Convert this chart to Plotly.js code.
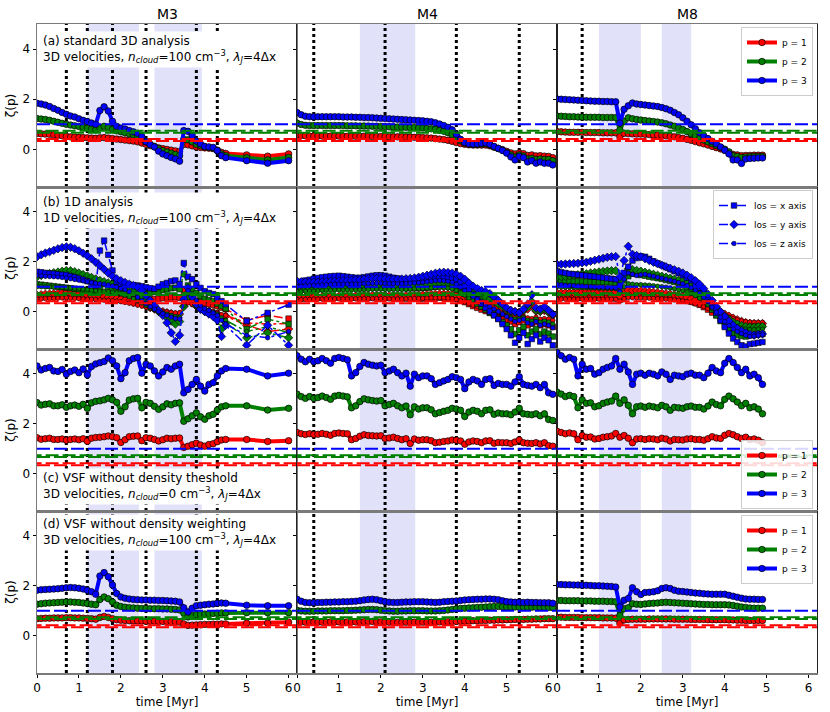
<!DOCTYPE html>
<html><head><meta charset="utf-8">
<script src="https://cdn.plot.ly/plotly-3.0.1.min.js"></script>
<style>html,body{margin:0;padding:0;background:#fff}#chart{width:830px;height:712px}</style>
</head><body><div id="chart"></div>
<script>
// ---------------- DATA ----------------
var t_M3 = [0.0,0.1,0.2,0.3,0.4,0.5,0.6,0.7,0.8,0.9,
 1.0,1.1,1.2,1.3,1.4,1.5,1.6,1.7,1.8,1.9,
 2.0,2.1,2.2,2.3,2.4,2.5,2.6,2.7,2.8,2.9,
 3.0,3.1,3.2,3.3,3.4,3.5,3.6,3.7,3.8,3.9,
 4.0,4.1,4.2,4.3,4.4,4.5,5.0,5.5,6.0];
var t_M4 = [0.0,0.1,0.2,0.3,0.4,0.5,0.6,0.7,0.8,0.9,
 1.0,1.1,1.2,1.3,1.4,1.5,1.6,1.7,1.8,1.9,
 2.0,2.1,2.2,2.3,2.4,2.5,2.6,2.7,2.8,2.9,
 3.0,3.1,3.2,3.3,3.4,3.5,3.6,3.7,3.8,3.9,
 4.0,4.1,4.2,4.3,4.4,4.5,4.6,4.7,4.8,4.9,
 5.0,5.1,5.2,5.3,5.4,5.5,5.6,5.7,5.8,5.9,
 6.0,6.1];
var t_M8 = [0.0,0.1,0.2,0.3,0.4,0.5,0.6,0.7,0.8,0.9,
 1.0,1.1,1.2,1.3,1.4,1.5,1.6,1.7,1.8,1.9,
 2.0,2.1,2.2,2.3,2.4,2.5,2.6,2.7,2.8,2.9,
 3.0,3.1,3.2,3.3,3.4,3.5,3.6,3.7,3.8,3.9,
 4.0,4.1,4.2,4.3,4.4,4.5,4.6,4.7,4.8,4.9];

// shaded intervals and dotted event lines (Myr)
var shade_M3 = [[1.2,2.43],[2.8,3.93]];
var shade_M4 = [[1.5,2.82]];
var shade_M8 = [[1.0,2.0],[2.5,3.2]];
var vline_M3 = [0.7,1.2,1.8,2.6,3.8,4.3];
var vline_M4 = [0.4,2.1,3.8,5.3];
var vline_M8 = [0.6];

// reference models: K41 and second model
var ref_K41 = [0.333,0.667,1.0];
var ref_B02 = [0.418,0.741,1.0];
var refX = [0,6.2];
var refXshift = [-0.2,6.2];

// (a) standard 3D
var a_M3_p3 = [1.84,1.81,1.77,1.71,1.63,1.56,1.47,1.40,1.33,1.29,
 1.22,1.16,1.11,1.05,1.00,1.55,1.70,1.53,1.12,0.92,
 0.85,0.81,0.75,0.70,0.64,0.51,0.30,0.19,0.10,-0.07,
 -0.18,-0.25,-0.32,-0.38,-0.47,0.75,0.72,0.55,0.33,0.22,
 0.12,0.10,0.08,-0.05,-0.25,-0.33,-0.45,-0.55,-0.45];
var a_M3_p2 = [1.23,1.21,1.19,1.16,1.12,1.08,1.04,1.00,0.97,0.94,
 0.91,0.88,0.85,0.82,0.78,0.86,0.92,0.88,0.80,0.74,
 0.70,0.66,0.62,0.58,0.52,0.42,0.30,0.20,0.12,0.03,
 -0.05,-0.10,-0.15,-0.20,-0.25,0.40,0.38,0.30,0.20,0.15,
 0.10,0.08,0.05,-0.05,-0.18,-0.25,-0.33,-0.42,-0.32];
var a_M3_p1 = [0.63,0.62,0.61,0.60,0.58,0.56,0.54,0.52,0.50,0.49,
 0.48,0.47,0.46,0.45,0.44,0.46,0.47,0.45,0.43,0.41,
 0.39,0.37,0.35,0.33,0.30,0.25,0.20,0.15,0.10,0.06,
 0.03,0.00,-0.03,-0.06,-0.09,0.20,0.18,0.14,0.10,0.08,
 0.06,0.05,0.03,-0.03,-0.12,-0.16,-0.22,-0.27,-0.18];
var a_M4_p3 = [1.47,1.38,1.32,1.30,1.30,1.30,1.30,1.30,1.30,1.30,
 1.30,1.29,1.29,1.29,1.28,1.28,1.27,1.27,1.26,1.25,
 1.24,1.23,1.22,1.21,1.20,1.19,1.18,1.17,1.16,1.15,
 1.14,1.12,1.10,1.06,1.01,0.95,0.88,0.78,0.60,0.40,
 0.27,0.22,0.21,0.22,0.24,0.26,0.20,0.12,0.04,-0.04,
 -0.15,-0.30,-0.42,-0.28,-0.33,-0.50,-0.45,-0.55,-0.50,-0.55,
 -0.55,-0.62];
var a_M4_p2 = [1.05,0.99,0.96,0.95,0.95,0.95,0.95,0.95,0.95,0.95,
 0.95,0.95,0.94,0.94,0.94,0.93,0.93,0.93,0.92,0.92,
 0.91,0.91,0.90,0.90,0.89,0.89,0.88,0.88,0.87,0.86,
 0.85,0.84,0.82,0.80,0.76,0.72,0.66,0.58,0.46,0.34,
 0.25,0.21,0.20,0.20,0.21,0.22,0.17,0.10,0.03,-0.03,
 -0.12,-0.22,-0.30,-0.22,-0.26,-0.38,-0.35,-0.40,-0.38,-0.40,
 -0.40,-0.45];
var a_M4_p1 = [0.58,0.55,0.54,0.53,0.53,0.53,0.53,0.53,0.53,0.53,
 0.53,0.53,0.52,0.52,0.52,0.52,0.52,0.52,0.51,0.51,
 0.51,0.51,0.50,0.50,0.50,0.50,0.49,0.49,0.48,0.48,
 0.47,0.46,0.45,0.43,0.41,0.39,0.36,0.32,0.27,0.23,
 0.20,0.18,0.17,0.17,0.17,0.17,0.14,0.09,0.04,-0.01,
 -0.08,-0.14,-0.18,-0.14,-0.17,-0.24,-0.22,-0.26,-0.25,-0.27,
 -0.28,-0.33];
var a_M8_p3 = [2.01,2.00,1.99,1.98,1.97,1.96,1.95,1.94,1.93,1.92,
 1.92,1.91,1.91,1.90,1.90,1.05,1.60,1.74,1.85,1.81,
 1.79,1.77,1.75,1.73,1.71,1.67,1.62,1.56,1.47,1.38,
 1.26,1.12,0.98,0.82,0.66,0.54,0.43,0.32,0.22,0.10,
 -0.03,-0.18,-0.42,-0.42,-0.56,-0.38,-0.36,-0.35,-0.34,-0.34];
var a_M8_p2 = [1.33,1.32,1.31,1.30,1.30,1.29,1.29,1.28,1.28,1.28,
 1.28,1.27,1.27,1.27,1.27,0.78,1.12,1.26,1.22,1.19,
 1.17,1.15,1.13,1.11,1.09,1.06,1.02,0.97,0.92,0.86,
 0.79,0.71,0.62,0.53,0.44,0.37,0.30,0.23,0.15,0.08,
 0.01,-0.10,-0.25,-0.28,-0.32,-0.30,-0.29,-0.28,-0.28,-0.28];
var a_M8_p1 = [0.71,0.70,0.69,0.68,0.68,0.68,0.68,0.67,0.67,0.67,
 0.67,0.66,0.66,0.66,0.66,0.51,0.64,0.63,0.62,0.61,
 0.61,0.60,0.59,0.58,0.57,0.56,0.54,0.52,0.50,0.47,
 0.44,0.40,0.36,0.31,0.26,0.22,0.17,0.12,0.07,0.02,
 -0.04,-0.12,-0.20,-0.22,-0.25,-0.24,-0.24,-0.23,-0.23,-0.23];

// (b) 1D analysis, three lines of sight
var b_M3_p3_x = [1.60,1.58,1.55,1.53,1.52,1.50,1.48,1.47,1.42,1.38,
 1.33,1.28,1.22,1.15,1.05,2.45,2.85,2.28,1.65,1.20,
 1.12,1.10,1.08,1.06,1.05,1.02,0.98,0.94,0.92,1.00,
 1.10,1.15,1.22,1.25,1.10,1.95,1.40,1.30,1.10,0.95,
 0.82,0.75,0.70,0.55,0.42,0.30,-0.38,-0.05,0.28];
var b_M3_p3_y = [2.20,2.28,2.35,2.40,2.46,2.52,2.57,2.60,2.58,2.52,
 2.44,2.34,2.24,2.12,1.98,1.85,1.70,1.55,1.42,1.32,
 1.24,1.17,1.10,1.05,0.98,0.85,0.65,0.45,0.25,0.05,
 -0.15,-0.45,-0.85,-1.20,-0.95,0.50,0.95,0.60,0.30,0.10,
 0.00,-0.10,-0.20,-0.35,-1.00,-0.55,-1.35,-0.55,-1.35];
var b_M3_p3_z = [1.45,1.43,1.42,1.41,1.40,1.39,1.37,1.35,1.32,1.29,
 1.26,1.23,1.20,1.17,1.14,1.12,1.10,1.07,1.03,0.98,
 0.93,0.88,0.80,0.70,0.58,0.45,0.32,0.20,0.10,0.00,
 -0.08,-0.15,-0.22,-0.28,-0.30,0.40,0.85,0.70,0.45,0.25,
 0.12,0.05,-0.05,-0.15,-0.35,-0.50,-0.95,-1.05,-0.80];
var b_M3_p2_x = [1.10,1.08,1.06,1.04,1.02,1.00,0.98,0.96,0.94,0.92,
 0.90,0.88,0.86,0.83,0.80,0.98,1.10,1.00,0.90,0.84,
 0.82,0.81,0.80,0.80,0.79,0.78,0.77,0.77,0.78,0.82,
 0.86,0.90,0.94,0.96,0.90,1.50,1.05,0.90,0.75,0.62,
 0.52,0.46,0.42,0.32,0.22,0.12,-0.70,-0.30,-0.50];
var b_M3_p2_y = [1.40,1.45,1.50,1.53,1.56,1.59,1.62,1.65,1.64,1.60,
 1.55,1.49,1.43,1.37,1.31,1.25,1.20,1.15,1.10,1.04,
 0.98,0.92,0.85,0.78,0.70,0.60,0.45,0.30,0.15,0.00,
 -0.12,-0.25,-0.38,-0.50,-0.40,0.20,0.75,0.50,0.25,0.10,
 0.00,-0.08,-0.15,-0.25,-0.70,-0.45,-1.05,-0.85,-1.05];
var b_M3_p2_z = [1.00,1.00,0.99,0.99,0.98,0.98,0.97,0.96,0.95,0.93,
 0.92,0.90,0.88,0.86,0.84,0.83,0.82,0.80,0.78,0.75,
 0.71,0.66,0.60,0.52,0.44,0.35,0.25,0.15,0.08,0.00,
 -0.05,-0.10,-0.15,-0.20,-0.22,0.25,0.55,0.45,0.30,0.18,
 0.10,0.04,-0.02,-0.10,-0.25,-0.35,-0.80,-0.60,-0.85];
var b_M3_p1_x = [0.58,0.60,0.61,0.62,0.63,0.64,0.65,0.66,0.65,0.64,
 0.63,0.62,0.61,0.60,0.58,0.63,0.66,0.62,0.58,0.56,
 0.55,0.54,0.53,0.52,0.51,0.50,0.49,0.49,0.50,0.52,
 0.54,0.56,0.57,0.58,0.55,0.88,0.62,0.52,0.44,0.38,
 0.33,0.30,0.27,0.22,0.16,0.10,-0.35,-0.15,-0.28];
var b_M3_p1_y = [0.66,0.68,0.70,0.71,0.72,0.73,0.75,0.76,0.75,0.73,
 0.71,0.69,0.67,0.65,0.63,0.61,0.59,0.57,0.55,0.52,
 0.49,0.46,0.42,0.38,0.34,0.30,0.23,0.16,0.10,0.03,
 0.00,-0.04,-0.08,-0.12,-0.10,0.22,0.48,0.35,0.22,0.12,
 0.06,0.02,-0.03,-0.08,-0.22,-0.18,-0.55,-0.80,-0.70];
var b_M3_p1_z = [0.50,0.51,0.52,0.53,0.53,0.54,0.55,0.55,0.54,0.53,
 0.52,0.51,0.50,0.49,0.48,0.47,0.46,0.45,0.44,0.42,
 0.40,0.37,0.34,0.30,0.26,0.22,0.17,0.12,0.08,0.04,
 0.01,-0.01,-0.03,-0.05,-0.05,0.20,0.35,0.28,0.18,0.10,
 0.05,0.01,-0.03,-0.06,-0.12,-0.15,-0.45,-0.50,-0.48];

var b_M4_p3_x = [1.15,1.20,1.25,1.28,1.32,1.35,1.38,1.40,1.42,1.43,
 1.44,1.42,1.40,1.38,1.36,1.36,1.38,1.41,1.44,1.46,
 1.46,1.44,1.40,1.36,1.33,1.30,1.28,1.27,1.26,1.25,
 1.26,1.28,1.30,1.33,1.36,1.38,1.38,1.36,1.30,1.18,
 1.02,0.85,0.68,0.50,0.32,0.15,0.00,-0.15,-0.30,-0.50,
 -0.70,-0.95,-1.25,-1.05,-0.85,-1.30,-1.10,-0.95,-1.20,-1.05,
 -1.15,-1.35];
var b_M4_p3_y = [1.22,1.20,1.19,1.18,1.18,1.18,1.19,1.20,1.21,1.22,
 1.23,1.24,1.25,1.26,1.27,1.28,1.30,1.32,1.33,1.33,
 1.32,1.31,1.30,1.30,1.30,1.31,1.32,1.33,1.35,1.38,
 1.42,1.46,1.50,1.54,1.57,1.58,1.57,1.55,1.50,1.42,
 1.30,1.15,1.02,0.92,0.85,0.80,0.72,0.60,0.45,0.30,
 0.15,0.05,0.00,-0.05,0.10,0.30,0.68,0.15,0.10,0.20,
 0.05,-0.10];
var b_M4_p3_z = [1.00,1.02,1.03,1.04,1.05,1.06,1.07,1.08,1.09,1.10,
 1.10,1.10,1.10,1.10,1.10,1.11,1.12,1.13,1.14,1.14,
 1.14,1.13,1.12,1.12,1.12,1.12,1.13,1.14,1.15,1.16,
 1.18,1.20,1.22,1.24,1.25,1.24,1.22,1.18,1.10,0.98,
 0.85,0.72,0.60,0.50,0.40,0.30,0.20,0.10,0.00,-0.10,
 -0.20,-0.30,-0.40,-0.35,-0.30,-0.45,-0.50,-0.40,-0.55,-0.50,
 -0.55,-0.65];
var b_M4_p2_x = [0.88,0.90,0.92,0.94,0.96,0.98,1.00,1.01,1.02,1.03,
 1.03,1.02,1.01,1.00,0.99,0.99,1.00,1.02,1.04,1.05,
 1.05,1.04,1.02,1.00,0.98,0.96,0.95,0.94,0.94,0.94,
 0.95,0.96,0.98,1.00,1.02,1.03,1.02,1.00,0.95,0.85,
 0.72,0.58,0.45,0.32,0.20,0.08,-0.05,-0.15,-0.28,-0.42,
 -0.55,-0.70,-0.90,-0.75,-0.62,-0.95,-0.80,-0.70,-0.90,-0.80,
 -0.88,-1.00];
var b_M4_p2_y = [0.95,0.94,0.93,0.93,0.93,0.93,0.94,0.95,0.96,0.96,
 0.97,0.98,0.98,0.99,1.00,1.00,1.02,1.03,1.04,1.04,
 1.03,1.02,1.02,1.01,1.01,1.02,1.03,1.04,1.05,1.07,
 1.09,1.11,1.13,1.15,1.17,1.18,1.17,1.15,1.10,1.02,
 0.92,0.82,0.74,0.68,0.62,0.58,0.50,0.40,0.30,0.20,
 0.10,0.02,-0.02,-0.05,0.05,0.18,0.40,0.05,0.02,0.10,
 -0.02,-0.12];
var b_M4_p2_z = [0.80,0.81,0.82,0.83,0.83,0.84,0.85,0.86,0.86,0.87,
 0.87,0.87,0.87,0.87,0.87,0.88,0.88,0.89,0.90,0.90,
 0.90,0.89,0.89,0.89,0.89,0.89,0.89,0.90,0.91,0.92,
 0.93,0.94,0.95,0.96,0.97,0.96,0.94,0.91,0.85,0.76,
 0.66,0.55,0.46,0.38,0.30,0.22,0.14,0.06,-0.02,-0.10,
 -0.17,-0.24,-0.30,-0.27,-0.24,-0.34,-0.38,-0.30,-0.42,-0.38,
 -0.42,-0.50];
var b_M4_p1_x = [0.52,0.53,0.54,0.55,0.56,0.57,0.57,0.58,0.58,0.58,
 0.58,0.58,0.57,0.57,0.56,0.56,0.56,0.57,0.58,0.58,
 0.58,0.57,0.56,0.55,0.54,0.53,0.53,0.52,0.52,0.52,
 0.52,0.53,0.54,0.55,0.56,0.56,0.55,0.53,0.50,0.44,
 0.38,0.30,0.22,0.15,0.08,0.02,-0.05,-0.12,-0.18,-0.25,
 -0.32,-0.40,-0.50,-0.42,-0.35,-0.55,-0.48,-0.42,-0.55,-0.50,
 -0.55,-0.62];
var b_M4_p1_y = [0.60,0.60,0.59,0.59,0.59,0.59,0.60,0.60,0.61,0.61,
 0.61,0.62,0.62,0.62,0.63,0.63,0.64,0.64,0.65,0.65,
 0.64,0.64,0.63,0.63,0.63,0.63,0.64,0.64,0.65,0.66,
 0.67,0.68,0.69,0.70,0.71,0.71,0.70,0.69,0.66,0.62,
 0.57,0.52,0.47,0.43,0.39,0.35,0.30,0.24,0.18,0.12,
 0.07,0.03,0.00,-0.02,0.03,0.10,0.25,0.02,0.00,0.04,
 -0.04,-0.15];
var b_M4_p1_z = [0.48,0.48,0.49,0.49,0.50,0.50,0.50,0.51,0.51,0.51,
 0.51,0.51,0.51,0.51,0.51,0.51,0.52,0.52,0.52,0.52,
 0.52,0.52,0.51,0.51,0.51,0.51,0.51,0.52,0.52,0.53,
 0.53,0.54,0.55,0.55,0.56,0.55,0.54,0.52,0.48,0.43,
 0.38,0.32,0.26,0.21,0.16,0.11,0.06,0.01,-0.04,-0.09,
 -0.14,-0.18,-0.22,-0.20,-0.18,-0.25,-0.28,-0.22,-0.30,-0.28,
 -0.30,-0.35];

var b_M8_p3_x = [1.62,1.58,1.55,1.52,1.50,1.48,1.46,1.44,1.42,1.40,
 1.38,1.36,1.34,1.32,1.30,1.05,1.55,1.80,2.05,2.15,
 2.22,2.20,2.12,2.02,1.94,1.86,1.78,1.70,1.62,1.54,
 1.46,1.36,1.25,1.12,0.96,0.75,0.50,0.22,-0.05,-0.35,
 -0.62,-0.88,-1.08,-1.22,-1.35,-1.40,-1.30,-1.28,-1.25,-1.22];
var b_M8_p3_y = [1.90,1.90,1.91,1.92,1.93,1.94,1.96,1.98,2.02,2.06,
 2.10,2.14,2.18,2.20,2.21,1.40,2.05,2.62,2.30,2.25,
 2.20,2.12,2.05,1.98,1.92,1.86,1.80,1.74,1.68,1.62,
 1.55,1.46,1.36,1.24,1.10,0.92,0.70,0.45,0.20,0.00,
 -0.20,-0.38,-0.55,-0.68,-0.78,-0.85,-0.92,-0.95,-0.92,-0.90];
var b_M8_p3_z = [1.10,1.08,1.06,1.05,1.04,1.03,1.02,1.01,1.00,0.99,
 0.98,0.98,0.97,0.96,0.95,0.80,1.30,1.55,1.50,1.45,
 1.48,1.50,1.46,1.42,1.38,1.34,1.30,1.26,1.22,1.17,
 1.12,1.05,0.96,0.86,0.74,0.58,0.40,0.18,-0.02,-0.22,
 -0.40,-0.56,-0.70,-0.80,-0.88,-0.95,-1.00,-0.98,-0.95,-0.92];
var b_M8_p2_x = [1.25,1.24,1.23,1.22,1.22,1.21,1.21,1.20,1.20,1.19,
 1.19,1.18,1.18,1.17,1.16,1.00,1.25,1.42,1.52,1.50,
 1.47,1.44,1.40,1.37,1.34,1.31,1.27,1.23,1.19,1.14,
 1.08,1.00,0.91,0.80,0.66,0.50,0.30,0.08,-0.15,-0.38,
 -0.58,-0.74,-0.86,-0.94,-0.98,-1.00,-0.95,-0.92,-0.90,-0.90];
var b_M8_p2_y = [1.40,1.41,1.42,1.44,1.46,1.48,1.50,1.52,1.55,1.57,
 1.59,1.61,1.63,1.64,1.64,1.20,1.50,1.72,1.68,1.65,
 1.62,1.58,1.54,1.50,1.46,1.42,1.38,1.34,1.30,1.25,
 1.20,1.13,1.05,0.95,0.83,0.68,0.50,0.30,0.12,-0.05,
 -0.18,-0.30,-0.42,-0.50,-0.56,-0.60,-0.62,-0.62,-0.60,-0.60];
var b_M8_p2_z = [1.00,0.99,0.98,0.98,0.97,0.97,0.96,0.96,0.95,0.95,
 0.94,0.94,0.93,0.93,0.92,0.78,1.00,1.12,1.10,1.08,
 1.08,1.07,1.06,1.04,1.02,1.00,0.98,0.95,0.92,0.88,
 0.84,0.79,0.72,0.64,0.54,0.42,0.28,0.12,-0.02,-0.16,
 -0.30,-0.42,-0.52,-0.60,-0.66,-0.70,-0.72,-0.72,-0.70,-0.70];
var b_M8_p1_x = [0.62,0.61,0.60,0.59,0.58,0.58,0.57,0.57,0.56,0.56,
 0.55,0.55,0.55,0.54,0.54,0.48,0.60,0.68,0.72,0.71,
 0.70,0.68,0.67,0.65,0.63,0.61,0.59,0.57,0.55,0.52,
 0.49,0.45,0.40,0.34,0.27,0.18,0.08,-0.04,-0.15,-0.26,
 -0.36,-0.45,-0.52,-0.57,-0.60,-0.62,-0.60,-0.58,-0.56,-0.55];
var b_M8_p1_y = [0.75,0.75,0.76,0.76,0.77,0.77,0.78,0.78,0.79,0.79,
 0.80,0.80,0.81,0.81,0.81,0.62,0.76,0.86,0.85,0.84,
 0.83,0.81,0.80,0.78,0.76,0.74,0.72,0.70,0.67,0.64,
 0.61,0.57,0.52,0.46,0.40,0.32,0.24,0.15,0.06,-0.02,
 -0.10,-0.18,-0.26,-0.33,-0.39,-0.44,-0.47,-0.48,-0.48,-0.48];
var b_M8_p1_z = [0.50,0.50,0.50,0.50,0.50,0.50,0.50,0.50,0.50,0.50,
 0.50,0.50,0.50,0.50,0.49,0.42,0.52,0.57,0.56,0.55,
 0.55,0.54,0.54,0.53,0.52,0.51,0.50,0.49,0.47,0.45,
 0.43,0.40,0.36,0.31,0.26,0.20,0.13,0.06,-0.01,-0.08,
 -0.15,-0.22,-0.28,-0.33,-0.37,-0.40,-0.42,-0.43,-0.43,-0.43];

// (c) without density threshold
var c_M3_p3 = [4.32,4.16,4.22,4.26,4.12,4.10,4.18,3.99,4.10,4.16,
 4.05,4.20,3.96,4.30,4.40,4.45,4.50,4.64,4.53,4.32,
 3.81,4.05,4.53,4.62,4.66,4.03,4.39,4.32,4.12,3.92,
 4.08,4.26,4.19,4.32,4.39,3.24,3.38,3.58,3.78,3.51,
 3.31,3.58,3.65,3.92,4.12,4.22,4.19,3.92,4.03];
var c_M3_p2 = [2.85,2.75,2.78,2.80,2.72,2.72,2.76,2.66,2.72,2.75,
 2.70,2.78,2.62,2.84,2.90,2.92,2.96,3.02,2.96,2.86,
 2.50,2.68,2.95,3.00,3.02,2.64,2.86,2.82,2.70,2.58,
 2.68,2.80,2.76,2.82,2.84,2.10,2.20,2.32,2.44,2.28,
 2.18,2.32,2.38,2.55,2.68,2.72,2.72,2.55,2.62];
var c_M3_p1 = [1.44,1.38,1.40,1.42,1.37,1.37,1.39,1.34,1.37,1.39,
 1.36,1.40,1.30,1.42,1.45,1.46,1.48,1.51,1.48,1.44,
 1.25,1.36,1.48,1.50,1.51,1.32,1.44,1.42,1.37,1.31,
 1.36,1.42,1.40,1.42,1.43,1.05,1.10,1.16,1.22,1.15,
 1.10,1.17,1.20,1.28,1.35,1.37,1.37,1.29,1.32];
var c_M4_p3 = [4.73,4.59,4.49,4.59,4.49,4.53,4.62,4.53,4.43,4.62,
 4.66,4.62,4.57,3.92,4.05,4.30,4.46,4.39,4.35,4.32,
 4.35,4.05,4.12,4.19,4.05,3.92,4.03,3.51,3.99,3.85,
 3.92,3.92,3.81,3.58,3.65,3.72,3.78,3.89,3.85,3.78,
 3.41,3.68,3.78,3.72,3.58,3.78,3.81,3.54,3.62,3.58,
 3.58,3.51,3.68,3.89,3.58,3.54,3.51,3.58,3.45,3.58,
 3.24,3.18];
var c_M4_p2 = [3.19,3.09,3.02,3.09,3.02,3.05,3.11,3.05,2.98,3.11,
 3.14,3.11,3.08,2.64,2.72,2.89,3.00,2.96,2.93,2.91,
 2.93,2.72,2.77,2.82,2.72,2.64,2.71,2.36,2.68,2.59,
 2.64,2.64,2.56,2.40,2.45,2.50,2.54,2.62,2.59,2.54,
 2.29,2.47,2.54,2.50,2.40,2.54,2.56,2.38,2.43,2.40,
 2.40,2.36,2.47,2.62,2.40,2.38,2.36,2.40,2.32,2.40,
 2.17,2.13];
var c_M4_p1 = [1.65,1.60,1.57,1.60,1.57,1.58,1.61,1.58,1.54,1.61,
 1.63,1.61,1.60,1.36,1.41,1.50,1.56,1.53,1.52,1.51,
 1.52,1.41,1.43,1.46,1.41,1.36,1.40,1.21,1.39,1.34,
 1.36,1.36,1.32,1.24,1.26,1.29,1.31,1.35,1.34,1.31,
 1.18,1.27,1.31,1.29,1.24,1.31,1.32,1.22,1.25,1.24,
 1.24,1.21,1.27,1.35,1.24,1.22,1.21,1.24,1.19,1.24,
 1.12,1.10];
var c_M8_p3 = [4.86,4.73,4.59,4.66,4.59,3.92,4.39,4.19,4.22,3.99,
 4.05,4.19,4.26,4.32,4.62,4.19,4.39,4.08,3.58,3.99,
 4.03,3.95,4.03,3.99,3.92,4.08,3.99,3.78,3.95,3.92,
 3.89,3.99,4.03,3.95,3.95,3.85,4.03,4.26,4.12,4.05,
 4.43,4.62,4.46,4.26,4.05,4.19,3.92,3.99,3.85,3.58];
var c_M8_p2 = [3.27,3.19,3.09,3.14,3.09,2.64,2.96,2.82,2.84,2.68,
 2.72,2.82,2.87,2.91,3.11,2.82,2.96,2.74,2.40,2.68,
 2.71,2.66,2.71,2.68,2.64,2.74,2.68,2.54,2.66,2.64,
 2.62,2.68,2.71,2.66,2.66,2.59,2.71,2.87,2.77,2.72,
 2.98,3.11,3.00,2.87,2.72,2.82,2.64,2.68,2.59,2.40];
var c_M8_p1 = [1.70,1.65,1.60,1.63,1.60,1.36,1.53,1.46,1.47,1.39,
 1.41,1.46,1.48,1.51,1.61,1.46,1.53,1.42,1.24,1.39,
 1.40,1.37,1.40,1.39,1.36,1.42,1.39,1.31,1.37,1.36,
 1.35,1.39,1.40,1.37,1.37,1.34,1.40,1.48,1.43,1.41,
 1.54,1.61,1.56,1.48,1.41,1.46,1.36,1.39,1.34,1.24];

// (d) without density weighting
var d_M3_p3 = [1.82,1.84,1.85,1.86,1.87,1.88,1.90,1.92,1.93,1.92,
 1.90,1.87,1.82,1.76,1.66,2.39,2.53,2.36,2.03,1.69,
 1.55,1.50,1.47,1.45,1.44,1.43,1.43,1.42,1.42,1.41,
 1.41,1.40,1.39,1.38,1.35,1.12,0.95,1.10,1.20,1.22,
 1.24,1.26,1.27,1.30,1.31,1.30,1.22,1.20,1.20];
var d_M3_p2 = [1.26,1.28,1.30,1.31,1.32,1.33,1.34,1.35,1.35,1.34,
 1.33,1.31,1.29,1.26,1.24,1.45,1.55,1.48,1.35,1.22,
 1.17,1.14,1.12,1.11,1.10,1.09,1.09,1.08,1.08,1.08,
 1.07,1.07,1.06,1.05,1.03,0.90,0.75,0.80,0.84,0.86,
 0.87,0.88,0.89,0.90,0.91,0.91,0.92,0.92,0.92];
var d_M3_p1 = [0.68,0.69,0.70,0.70,0.71,0.71,0.71,0.72,0.72,0.71,
 0.71,0.70,0.69,0.68,0.66,0.73,0.77,0.73,0.68,0.64,
 0.62,0.61,0.60,0.60,0.59,0.59,0.58,0.58,0.58,0.57,
 0.57,0.57,0.56,0.56,0.54,0.47,0.41,0.42,0.43,0.44,
 0.45,0.45,0.46,0.46,0.47,0.47,0.50,0.50,0.54];
var d_M4_p3 = [1.46,1.38,1.33,1.32,1.32,1.33,1.33,1.34,1.34,1.35,
 1.35,1.36,1.36,1.37,1.38,1.40,1.43,1.45,1.46,1.44,
 1.40,1.36,1.34,1.33,1.33,1.34,1.35,1.35,1.36,1.36,
 1.36,1.35,1.34,1.33,1.34,1.36,1.37,1.38,1.39,1.41,
 1.43,1.44,1.45,1.46,1.46,1.47,1.47,1.46,1.44,1.40,
 1.36,1.35,1.34,1.34,1.33,1.34,1.33,1.33,1.32,1.32,
 1.32,1.30];
var d_M4_p2 = [1.02,0.99,0.98,0.98,0.98,0.99,0.99,0.99,1.00,1.00,
 1.00,1.00,1.01,1.01,1.02,1.03,1.04,1.05,1.05,1.04,
 1.02,1.00,0.99,0.98,0.98,0.99,0.99,1.00,1.00,1.00,
 1.00,0.99,0.99,0.99,1.00,1.01,1.03,1.05,1.07,1.09,
 1.10,1.11,1.12,1.13,1.14,1.15,1.16,1.17,1.17,1.16,
 1.15,1.15,1.15,1.14,1.14,1.14,1.14,1.14,1.14,1.13,
 1.13,1.12];
var d_M4_p1 = [0.57,0.55,0.54,0.54,0.54,0.54,0.54,0.54,0.55,0.55,
 0.55,0.55,0.55,0.55,0.55,0.56,0.56,0.57,0.57,0.56,
 0.55,0.54,0.54,0.53,0.53,0.53,0.54,0.54,0.54,0.54,
 0.54,0.54,0.54,0.54,0.55,0.55,0.56,0.57,0.57,0.58,
 0.58,0.59,0.60,0.60,0.61,0.61,0.62,0.62,0.63,0.63,
 0.64,0.64,0.65,0.65,0.65,0.66,0.66,0.67,0.67,0.68,
 0.68,0.68];
var d_M8_p3 = [2.05,2.05,2.04,2.04,2.03,2.03,2.02,2.02,2.01,2.00,
 2.00,1.99,1.98,1.97,1.95,1.15,1.42,1.49,1.92,1.76,
 1.65,1.73,1.74,1.76,1.80,1.89,1.92,1.89,1.82,1.78,
 1.77,1.75,1.73,1.71,1.70,1.68,1.67,1.66,1.66,1.66,
 1.66,1.62,1.58,1.54,1.50,1.47,1.46,1.46,1.45,1.45];
var d_M8_p2 = [1.41,1.41,1.40,1.40,1.40,1.40,1.39,1.39,1.39,1.38,
 1.38,1.38,1.37,1.37,1.36,0.81,1.08,1.12,1.28,1.26,
 1.25,1.27,1.29,1.30,1.31,1.33,1.34,1.33,1.32,1.31,
 1.30,1.29,1.28,1.27,1.26,1.25,1.25,1.24,1.24,1.24,
 1.24,1.23,1.21,1.18,1.15,1.13,1.11,1.10,1.10,1.10];
var d_M8_p1 = [0.74,0.74,0.73,0.73,0.73,0.73,0.72,0.72,0.72,0.72,
 0.72,0.71,0.71,0.71,0.70,0.50,0.63,0.65,0.66,0.66,
 0.66,0.66,0.67,0.67,0.67,0.67,0.67,0.67,0.66,0.66,
 0.66,0.66,0.65,0.65,0.65,0.65,0.64,0.64,0.64,0.64,
 0.64,0.63,0.63,0.62,0.62,0.61,0.61,0.61,0.61,0.61];

// text
var colTitles = ['M3','M4','M8'];
var pNames = ['p = 1','p = 2','p = 3'];
var losNames = ['los = x axis','los = y axis','los = z axis'];
var panelTexts = [
 '(a) standard 3D analysis<br>3D velocities, <i>n</i><sub><i>cloud</i></sub>=100 cm<sup>−3</sup>, <i>λ</i><sub><i>J</i></sub>=4Δx',
 '(b) 1D analysis<br>1D velocities, <i>n</i><sub><i>cloud</i></sub>=100 cm<sup>−3</sup>, <i>λ</i><sub><i>J</i></sub>=4Δx',
 '(c) VSF without density theshold<br>3D velocities, <i>n</i><sub><i>cloud</i></sub>=0 cm<sup>−3</sup>, <i>λ</i><sub><i>J</i></sub>=4Δx',
 '(d) VSF without density weighting<br>3D velocities, <i>n</i><sub><i>cloud</i></sub>=100 cm<sup>−3</sup>, <i>λ</i><sub><i>J</i></sub>=4Δx'
];

// ---------------- BUILD ----------------
var W = 830, H = 712;
var colPx = [[37,297],[297,557],[557,817]];
var rowPx = [[24,187],[187,349],[349,511],[511,673]];
var rows = ['a','b','c','d'];
var cols = ['M3','M4','M8'];
var tMap = {M3:t_M3, M4:t_M4, M8:t_M8};
var shadeMap = {M3:shade_M3, M4:shade_M4, M8:shade_M8};
var vlineMap = {M3:vline_M3, M4:vline_M4, M8:vline_M8};
var pColors = ['red','green','blue'];
var losKeys = ['x','y','z'];
var losSym = ['square','diamond','circle'];
var losSize = [5.5,6.5,4.5];
var legendId = ['legend','legend2','legend3','legend4'];

var traces = [], shapes = [], annotations = [];
var layout = {
  width: W, height: H, margin: {l:0,r:0,t:0,b:0},
  paper_bgcolor: 'white', plot_bgcolor: 'white',
  font: {family: 'DejaVu Sans, sans-serif', size: 12, color: 'black'},
  hovermode: false
};

function sid(k){ return k === 1 ? '' : String(k); }

rows.forEach(function(r, ri){
  cols.forEach(function(c, ci){
    var k = ri*3 + ci + 1, s = sid(k);
    var xa = 'x' + s, ya = 'y' + s;
    var t = tMap[c];
    var xax = {
      domain: [colPx[ci][0]/W, colPx[ci][1]/W], anchor: ya,
      range: [0, 6.2], tickvals: [0,1,2,3,4,5,6], ticktext: ['0','1','2','3','4','5','6'],
      showticklabels: ri === 3, ticks: ri === 3 ? 'outside' : '', ticklen: 3.5, tickwidth: 1, tickcolor: 'black',
      showline: true, mirror: true, linecolor: '#7a7a7a', linewidth: 1.5,
      showgrid: false, zeroline: false, tickfont: {size: 12}
    };
    if (ri === 3) xax.title = {text: 'time [Myr]', font: {size: 12}, standoff: 3};
    layout['xaxis' + s] = xax;
    var yax = {
      domain: [1 - rowPx[ri][1]/H, 1 - rowPx[ri][0]/H], anchor: xa,
      range: [-1.5, 5], tickvals: [0,2,4], ticktext: ['0','2','4'],
      showticklabels: ci === 0, ticks: 'outside', ticklen: 3.5, tickwidth: 1, tickcolor: 'black',
      showline: true, mirror: true, linecolor: ci === 0 ? '#7a7a7a' : '#222', linewidth: 1,
      showgrid: false, zeroline: false, tickfont: {size: 12}
    };
    if (ci === 0) yax.title = {text: 'ζ(p)', font: {size: 12}, standoff: 4};
    layout['yaxis' + s] = yax;

    shadeMap[c].forEach(function(iv){
      shapes.push({type:'rect', xref: xa, yref: ya + ' domain', x0: iv[0], x1: iv[1], y0: 0, y1: 1,
        fillcolor: '#e1e1f9', line: {width: 0}, layer: 'below'});
    });
    vlineMap[c].forEach(function(v){
      shapes.push({type:'line', xref: xa, yref: ya + ' domain', x0: v, x1: v, y0: 0, y1: 1,
        line: {color: 'black', width: 3, dash: 'dot'}, layer: 'below'});
    });

    for (var p = 1; p <= 3; p++) {
      var col = pColors[p-1];
      if (r !== 'b') {
        traces.push({type: 'scatter', mode: 'lines+markers', x: t, y: window[r + '_' + c + '_p' + p],
          xaxis: xa, yaxis: ya, name: pNames[p-1], legend: legendId[ri], showlegend: ci === 2,
          line: {color: col, width: 4},
          marker: {color: col, size: 6.5, line: {color: 'black', width: 0.7}}});
      } else {
        for (var j = 0; j < 3; j++) {
          traces.push({type: 'scatter', mode: 'lines+markers', x: t, y: window['b_' + c + '_p' + p + '_' + losKeys[j]],
            xaxis: xa, yaxis: ya, name: losNames[j], legend: 'legend2', showlegend: ci === 2 && p === 3,
            line: {color: col, width: 1.5, dash: 'dashdot'},
            marker: {symbol: losSym[j], color: col, size: losSize[j], line: {color: 'black', width: 0.6}}});
        }
      }
    }
    for (var q = 0; q < 3; q++) {
      traces.push({type: 'scatter', mode: 'lines', x: refX, y: [ref_K41[q], ref_K41[q]], xaxis: xa, yaxis: ya,
        showlegend: false, line: {color: pColors[q], width: 2, dash: '13px,4px'}});
      if (ref_B02[q] !== ref_K41[q]) {
        traces.push({type: 'scatter', mode: 'lines', x: refXshift, y: [ref_B02[q], ref_B02[q]], xaxis: xa, yaxis: ya,
          showlegend: false, line: {color: pColors[q], width: 2, dash: '13px,4px'}});
      }
    }
  });
});

// column titles
colTitles.forEach(function(txt, ci){
  annotations.push({xref: 'paper', yref: 'paper', x: (colPx[ci][0] + colPx[ci][1]) / 2 / W, y: 1 - 14/H,
    xanchor: 'center', yanchor: 'middle', text: txt, showarrow: false, font: {size: 14}});
});
// panel descriptions (white boxes)
var boxTop = [30.5, 192.5, 468, 514];
panelTexts.forEach(function(txt, ri){
  annotations.push({xref: 'paper', yref: 'paper', x: 40/W, y: 1 - boxTop[ri]/H,
    xanchor: 'left', yanchor: 'top', align: 'left', text: txt, showarrow: false,
    bgcolor: 'white', borderpad: 2, font: {size: 12}});
});
layout.shapes = shapes;
layout.annotations = annotations;

var legBase = {xanchor: 'right', x: 813/W, bgcolor: 'rgba(255,255,255,0.85)', bordercolor: '#cccccc', borderwidth: 1,
  font: {size: 9}, itemwidth: 30, tracegroupgap: 0, traceorder: 'normal'};
layout.legend  = Object.assign({}, legBase, {y: 1 - 27/H,  yanchor: 'top'});
layout.legend2 = Object.assign({}, legBase, {y: 1 - 190/H, yanchor: 'top'});
layout.legend3 = Object.assign({}, legBase, {y: 1 - 509/H, yanchor: 'bottom'});
layout.legend4 = Object.assign({}, legBase, {y: 1 - 515/H, yanchor: 'top'});

Plotly.newPlot('chart', traces, layout, {staticPlot: true, displayModeBar: false});
</script></body></html>
